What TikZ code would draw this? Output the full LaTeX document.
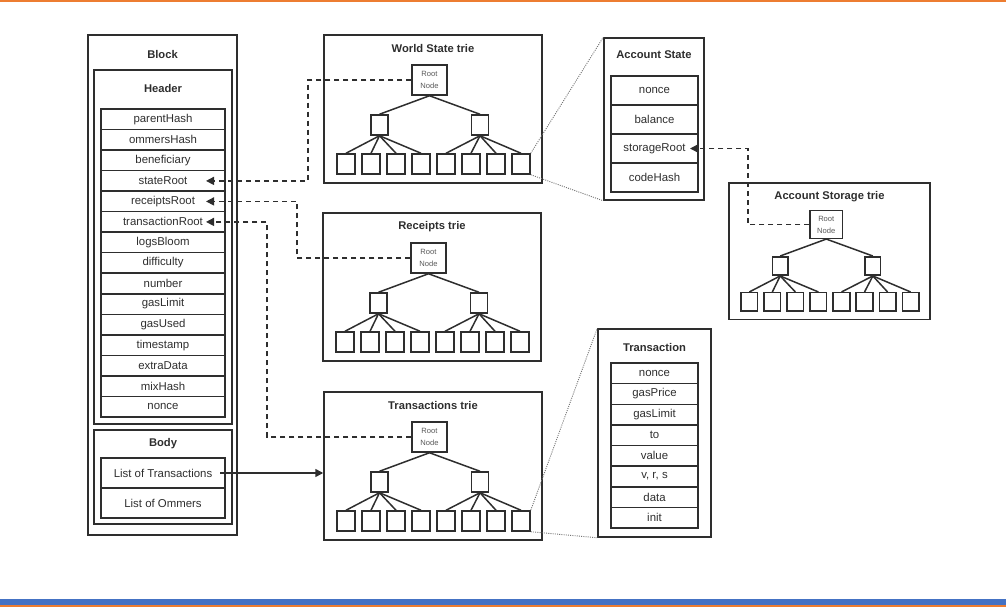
\documentclass[tikz,border=0pt]{standalone}
\usepackage{fontspec}
\setmainfont{Liberation Sans}
\usetikzlibrary{arrows.meta}
\definecolor{ln}{HTML}{2E2E2E}
\definecolor{topor}{HTML}{ED7D31}
\definecolor{botbl}{HTML}{4472C4}
\tikzset{
  box/.style={draw=ln, line width=1.5pt, inner sep=0pt},
  field/.style={draw=ln, line width=1.5pt, inner sep=0pt, text=ln, font=\fontsize{11.4}{13}\selectfont},
  ttl/.style={inner sep=0pt, text=ln, font=\fontsize{11.2}{13}\selectfont\bfseries},
  rootnode/.style={draw=ln, line width=1.5pt, inner sep=0pt, fill=white, align=center, text=black!65, font=\fontsize{7.6}{12}\selectfont},
  leafnode/.style={draw=ln, line width=1.5pt, inner sep=0pt, fill=white},
  edge/.style={draw=ln, line width=1.5pt},
  dconn/.style={draw=ln, line width=1.5pt, dash pattern=on 5pt off 4pt},
  tipA/.style={-{Triangle[length=8pt,width=8pt]}},
  zoomln/.style={draw=black!55, line width=0.9pt, dash pattern=on 1pt off 1.2pt},
}
\newcommand\mktrie[5]{%
  \pgfmathsetmacro\tw{218*#4}\pgfmathsetmacro\th{148*#4}%
  \node[box, minimum width=\tw, minimum height=\th] (#1box) at ({#2+\tw/2},{#3+\th/2}) {};
  \node[ttl] (#1title) at ({#2+\tw/2},{#3+13.5}) {#5};
  \node[rootnode, minimum width={35*#4}, minimum height={30*#4}] (#1root) at ({#2+105.5*#4},{#3+45*#4}) {Root\\Node};
  \node[leafnode, minimum width={17*#4}, minimum height={20*#4}] (#1m1) at ({#2+55.5*#4},{#3+90*#4}) {};
  \node[leafnode, minimum width={17*#4}, minimum height={20*#4}] (#1m2) at ({#2+156*#4},{#3+90*#4}) {};
  \foreach \i in {1,...,8} {
    \node[leafnode, minimum width={18*#4}, minimum height={20*#4}] (#1l\i) at ({#2+(22+25*(\i-1))*#4},{#3+129*#4}) {};
  }
  \draw[edge] (#1root.south) -- (#1m1.north);
  \draw[edge] (#1root.south) -- (#1m2.north);
  \foreach \i in {1,...,4} { \draw[edge] (#1m1.south) -- (#1l\i.north); }
  \foreach \i in {5,...,8} { \draw[edge] (#1m2.south) -- (#1l\i.north); }
}
\begin{document}
\begin{tikzpicture}[x=1pt,y=-1pt]
\useasboundingbox (0,0) rectangle (1006,607);
% bars
\fill[topor] (0,0) rectangle (1006,2.5);
\fill[botbl] (0,599) rectangle (1006,605);
\fill[topor] (0,605) rectangle (1006,607);

% Block
\node[box, minimum width=149, minimum height=500] (block) at (162.5,285) {};
\node[ttl] (blocktitle) at (162.5,54) {Block};
\node[box, minimum width=138, minimum height=354] (header) at (163,247) {};
\node[ttl] (headertitle) at (163,88) {Header};
\foreach \n/\t [count=\k from 0] in {ph/parentHash, oh/ommersHash, bf/beneficiary, sr/stateRoot, rr/receiptsRoot, tr/transactionRoot, lb/logsBloom, df/difficulty, nm/number, gl/gasLimit, gu/gasUsed, ts/timestamp, ed/extraData, mh/mixHash, nc/nonce} {
  \node[field, minimum width=124, minimum height=20.53] (\n) at (163,{109+20.53*(\k+0.5)}) {\t};
}
\node[box, minimum width=138, minimum height=94] (body) at (163,477) {};
\node[ttl] (bodytitle) at (163,444) {Body};
\node[field, minimum width=124, minimum height=30] (lot) at (163,473) {List of Transactions};
\node[field, minimum width=124, minimum height=30] (loo) at (163,503) {List of Ommers};

% tries
\mktrie{ws}{324}{35}{1}{World State trie}
\mktrie{rc}{323}{213}{1}{Receipts trie}
\mktrie{tx}{324}{392}{1}{Transactions trie}
\mktrie{st}{729}{183}{0.922}{Account Storage trie}

% Account State
\node[box, minimum width=100, minimum height=162] (acc) at (654,119) {};
\node[ttl] (acctitle) at (654,55) {Account State};
\foreach \n/\t [count=\k from 0] in {an/nonce, ab/balance, as/storageRoot, ac/codeHash} {
  \node[field, minimum width=87, minimum height=29] (\n) at (654.5,{76+29*(\k+0.5)}) {\t};
}

% Transaction
\node[box, minimum width=113, minimum height=208] (tra) at (654.5,433) {};
\node[ttl] (tratitle) at (654.5,347) {Transaction};
\foreach \n/\t [count=\k from 0] in {tn/nonce, tg/gasPrice, tl/gasLimit, tt/to, tv/value, tw/{v, r, s}, td/data, ti/init} {
  \node[field, minimum width=87, minimum height=20.625] (\n) at (654.5,{363+20.625*(\k+0.5)}) {\t};
}

% dashed connectors
\coordinate (srtip) at (206,180.9);
\coordinate (bA) at (308,180.9);
\draw[dconn, tipA] (wsroot.west) -| (bA) -- (srtip);
\coordinate (rrtip) at (206,201.4);
\coordinate (bB) at (297,201.4);
\draw[dconn, tipA] (rcroot.west) -| (bB) -- (rrtip);
\coordinate (trtip) at (206,221.9);
\coordinate (bC) at (267,221.9);
\draw[dconn, tipA] (txroot.west) -| (bC) -- (trtip);
\coordinate (astip) at (690,148.5);
\coordinate (bD) at (748,148.5);
\draw[dconn, tipA] (stroot.west) -| (bD) -- (astip);

% list of transactions arrow
\coordinate (lotstart) at (220,473);
\draw[edge, tipA] (lotstart) -- (txbox.west |- lotstart);

% zoom lines
\draw[zoomln] (wsl8.north east) -- (acc.north west);
\draw[zoomln] (wsl8.south east) -- (acc.south west);
\draw[zoomln] (txl8.north east) -- (tra.north west);
\draw[zoomln] (txl8.south east) -- (tra.south west);
\end{tikzpicture}
\end{document}
